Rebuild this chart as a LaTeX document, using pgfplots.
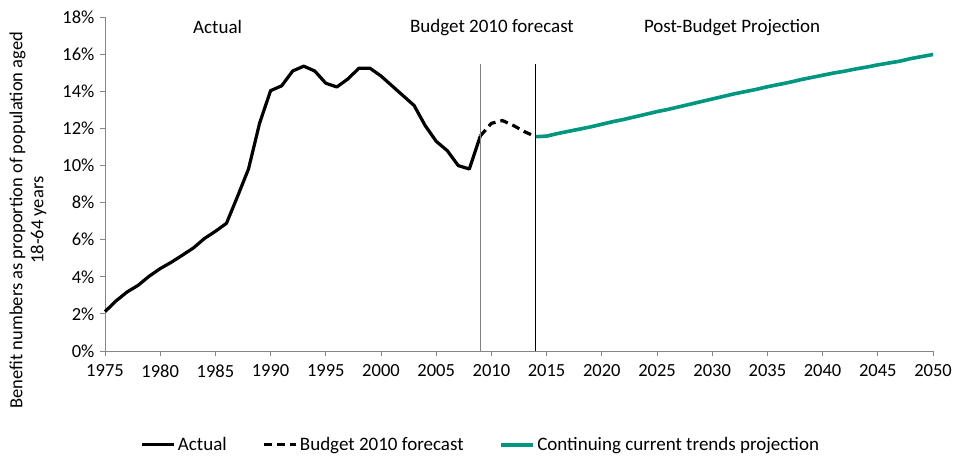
\documentclass[border=0pt]{standalone}
\usepackage{pgfplots}
\pgfplotsset{compat=1.18}
\usepackage{fontspec}
\setmainfont{Carlito}
\definecolor{teal1}{RGB}{0,150,128}
\definecolor{axgray}{RGB}{134,134,134}
\begin{document}
\begin{tikzpicture}[x=1pt,y=1pt]
\begin{axis}[
  name=ax,
  scale only axis,
  width=828pt, height=334pt,
  xmin=1975, xmax=2050, ymin=0, ymax=18,
  axis x line*=bottom, axis y line*=left,
  axis line style={axgray, line width=0.8pt},
  xtick={1975,1980,...,2050},
  ytick={0,2,...,18},
  tick style={axgray, line width=0.8pt},
  tick align=outside,
  major tick length=5pt,
  /pgf/number format/assume math mode=true,
  xticklabel style={/pgf/number format/1000 sep={}, font=\fontsize{18.5}{20}\selectfont, yshift=-5pt},
  yticklabel style={font=\fontsize{18.5}{20}\selectfont, xshift=-2pt},
  yticklabel={\pgfmathprintnumber{\tick}\%},
  ylabel={Benefit numbers as proportion of population aged\\18-64 years},
  ylabel style={align=center, font=\fontsize{18.5}{21}\selectfont, at={(axis description cs:-0.093,0.392)}, anchor=center, rotate=0},
  legend columns=3,
  legend style={draw=none, at={(axis description cs:0.454,-0.281)}, anchor=center, font=\fontsize{19}{20}\selectfont, /tikz/every even column/.append style={column sep=34pt}, nodes={inner xsep=2pt}},
  legend image code/.code={\draw[#1] (0pt,0pt) -- (32pt,0pt);},
  clip=false,
]
\addplot[black, line width=3.2pt, line join=round] coordinates {
(1975,2.12)(1976,2.70)(1977,3.18)(1978,3.54)(1979,4.03)(1980,4.44)(1981,4.78)(1982,5.16)(1983,5.55)(1984,6.06)
(1985,6.45)(1986,6.88)(1987,8.32)(1988,9.81)(1989,12.27)(1990,14.03)(1991,14.29)(1992,15.09)(1993,15.35)(1994,15.09)
(1995,14.43)(1996,14.23)(1997,14.66)(1998,15.24)(1999,15.24)(2000,14.82)(2001,14.29)(2002,13.76)(2003,13.23)(2004,12.15)
(2005,11.30)(2006,10.80)(2007,9.99)(2008,9.81)(2009,11.59)};
\addlegendentry{Actual}
\addplot[black, line width=3.2pt, dash pattern=on 8pt off 5pt] coordinates {
(2009,11.59)(2010,12.27)(2011,12.42)(2012,12.15)(2013,11.82)(2014,11.55)};
\addlegendentry{Budget 2010 forecast}
\addplot[teal1, line width=3.6pt, line join=round] coordinates {
(2014,11.55)(2015,11.58)(2016,11.72)(2017,11.84)(2018,11.96)(2019,12.08)(2020,12.22)(2021,12.36)(2022,12.48)(2023,12.62)
(2024,12.76)(2025,12.90)(2026,13.02)(2027,13.16)(2028,13.30)(2029,13.44)(2030,13.58)(2031,13.72)(2032,13.86)(2033,13.98)
(2034,14.10)(2035,14.24)(2036,14.36)(2037,14.48)(2038,14.62)(2039,14.74)(2040,14.86)(2041,14.98)(2042,15.08)(2043,15.20)
(2044,15.30)(2045,15.42)(2046,15.52)(2047,15.62)(2048,15.76)(2049,15.87)(2050,15.98)};
\addlegendentry{Continuing current trends projection}
\draw[gray, line width=1pt] (axis cs:2009,0) -- (axis cs:2009,15.46);
\draw[black, line width=0.9pt] (axis cs:2014,0) -- (axis cs:2014,15.46);
\node[font=\fontsize{19}{20}\selectfont] at (axis cs:1985.2,17.45) {Actual};
\node[font=\fontsize{19}{20}\selectfont] at (axis cs:2010.05,17.45) {Budget 2010 forecast};
\node[font=\fontsize{19}{20}\selectfont] at (axis cs:2031.8,17.45) {Post-Budget Projection};
\end{axis}
\pgfresetboundingbox
\path ([xshift=-105pt,yshift=-109pt]ax.south west) rectangle ([xshift=24pt,yshift=17pt]ax.north east);
\end{tikzpicture}
\end{document}
